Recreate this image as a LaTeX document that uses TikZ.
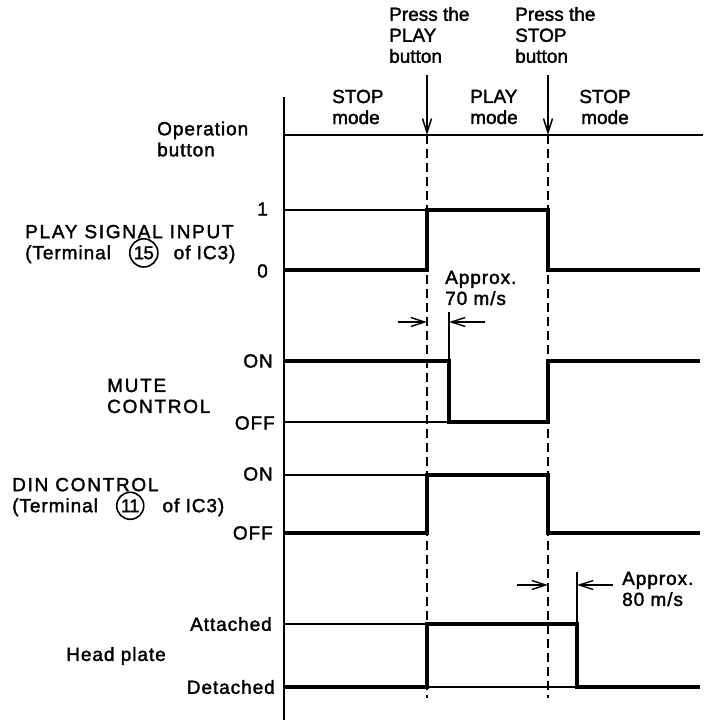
\documentclass[tikz,border=0pt]{standalone}
\usepackage{fontspec}
\setmainfont{Liberation Sans}[FakeBold=1.8]
\usetikzlibrary{arrows.meta}
\newcommand\circnum[1]{\smash{\tikz[baseline=(cn.base)]\node[draw,circle,inner sep=1.6pt,line width=1.6pt,font=\fontsize{18.5}{18}\selectfont\addfontfeature{LetterSpace=-3}](cn){#1};}}
\newcommand\trackwide{\addfontfeature{LetterSpace=9}}
\newcommand\trackmid{\addfontfeature{LetterSpace=5}}
\begin{document}
\begin{tikzpicture}[x=1pt,y=-1pt,
  thinline/.style={line width=1.5pt},
  axisline/.style={line width=2.3pt},
  wave/.style={line width=3.8pt, line join=miter},
  guide/.style={line width=1.5pt, dash pattern=on 9pt off 5pt},
  press/.style={line width=1.5pt, -{Straight Barb[length=14pt,width=9pt,line width=1.5pt]}},
  meas/.style={line width=1.4pt, -{Straight Barb[length=14pt,width=9pt,line width=1.4pt]}},
  lbl/.style={inner sep=0pt, font=\fontsize{19}{21}\selectfont, align=left},
  lblr/.style={lbl, anchor=east},
  lbll/.style={lbl, anchor=west}
]
\useasboundingbox (0,0) rectangle (713,720);
% axis
\coordinate (axtop) at (284,97);
\coordinate (axbot) at (284,720);
\draw[axisline] (axtop) -- (axbot);
% operation line
\coordinate (op0) at (284,135);
\coordinate (op1) at (703,135);
\draw[thinline] (op0) -- (op1);
% press arrows and guides
\coordinate (pa0) at (427,75);
\coordinate (pa1) at (427,135);
\coordinate (pa2) at (427,698);
\coordinate (sa0) at (548,75);
\coordinate (sa1) at (548,135);
\coordinate (sa2) at (548,698);
\draw[press] (pa0) -- (pa1);
\draw[press] (sa0) -- (sa1);
\draw[guide] (pa1) -- (pa2);
\draw[guide] (sa1) -- (sa2);
% PLAY signal
\draw[thinline] (284,210) -- (427,210);
\draw[wave] (284,270) -- (427,270) -- (427,210) -- (548,210) -- (548,270) -- (700,270);
% MUTE
\draw[thinline] (284,422) -- (449,422);
\draw[wave] (284,361) -- (449,361) -- (449,422) -- (548,422) -- (548,361) -- (700,361);
% 70 ms measurement
\coordinate (m70t) at (449,312);
\coordinate (m70b) at (449,361);
\draw[thinline] (m70t) -- (m70b);
\coordinate (m70l) at (398,322);
\coordinate (m70la) at (427,322);
\coordinate (m70r) at (485,322);
\coordinate (m70ra) at (449,322);
\draw[meas] (m70l) -- (m70la);
\draw[meas] (m70r) -- (m70ra);
% DIN
\draw[thinline] (284,475) -- (427,475);
\draw[wave] (284,533) -- (427,533) -- (427,475) -- (548,475) -- (548,533) -- (700,533);
% Head plate
\draw[thinline] (284,624) -- (427,624);
\draw[thinline] (427,687) -- (577,687);
\draw[wave] (284,687) -- (427,687) -- (427,624) -- (577,624) -- (577,687) -- (700,687);
% 80 ms measurement
\coordinate (m80t) at (577,572);
\coordinate (m80b) at (577,624);
\draw[thinline] (m80t) -- (m80b);
\coordinate (m80l) at (517,585);
\coordinate (m80la) at (548,585);
\coordinate (m80r) at (613,585);
\coordinate (m80ra) at (577,585);
\draw[meas] (m80l) -- (m80la);
\draw[meas] (m80r) -- (m80ra);
% texts
\node[lbll] (tpress1) at (389,35) {Press the\\PLAY\\button};
\node[lbll] (tpress2) at (515,35) {Press the\\STOP\\button};
\node[lbll] (tstop1) at (332,107) {STOP\\mode};
\node[lbl, anchor=center] (tplay) at (494,107) {\hfill PLAY\hfill\null\\\hfill mode\hfill\null};
\node[lbl, anchor=center] (tstop2) at (605,107) {\hfill STOP\hfill\null\\\hfill mode\hfill\null};
\node[lbll] (topb) at (157,139) {\trackmid Operation\\\trackmid button};
\node[lblr] (t1) at (268,209) {1};
\node[lblr] (t0) at (268,271) {0};
\node[lbll] (tplaysig) at (25,244) {\trackwide PLAY SIGNAL INPUT\\\trackmid (Terminal\hspace{18pt}\circnum{15}\hspace{15pt}of IC3)};
\node[lbll] (tapp70) at (445,288) {\trackmid Approx.\\\trackmid 70 m/s};
\node[lblr] (ton1) at (273,361) {\trackmid ON};
\node[lblr] (toff1) at (275,423) {\trackmid OFF};
\node[lbll] (tmute) at (107,396) {\trackwide MUTE\\\trackwide CONTROL};
\node[lblr] (ton2) at (273,474) {\trackmid ON};
\node[lblr] (toff2) at (273,533) {\trackmid OFF};
\node[lbll] (tdin) at (12,497) {\trackwide DIN CONTROL\\\trackmid (Terminal\hspace{18pt}\circnum{11}\hspace{18pt}of IC3)};
\node[lbll] (tapp80) at (622,589) {\trackmid Approx.\\\trackmid 80 m/s};
\node[lblr] (tatt) at (272,624) {\trackmid Attached};
\node[lblr] (tdet) at (275,687) {\trackmid Detached};
\node[lblr] (thead) at (166,656) {\trackmid Head plate};
\end{tikzpicture}
\end{document}
